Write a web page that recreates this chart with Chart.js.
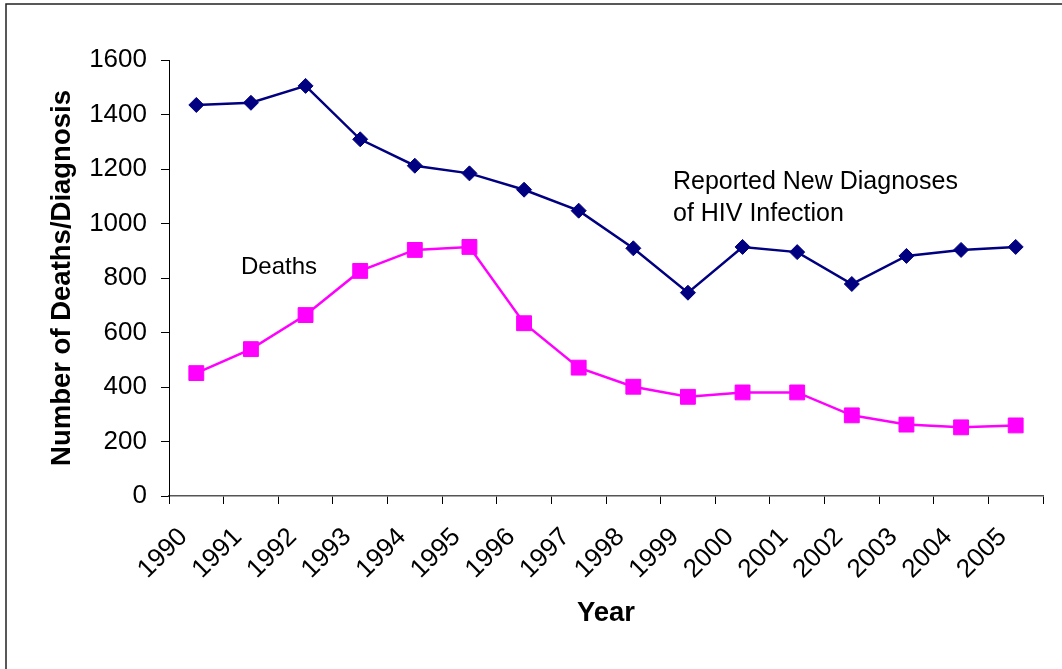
<!DOCTYPE html>
<html>
<head>
<meta charset="utf-8">
<script src="https://cdn.jsdelivr.net/npm/chart.js@4/dist/chart.umd.min.js"></script>
<style>
  html, body { margin: 0; padding: 0; background: #fff; }
  #wrap { width: 1062px; height: 669px; position: relative; }
</style>
</head>
<body>
<div id="wrap"><canvas id="chart"></canvas></div>
<script>
const years = ['1990','1991','1992','1993','1994','1995','1996','1997','1998','1999','2000','2001','2002','2003','2004','2005'];
const diagnoses = [1435, 1443, 1505, 1309, 1212, 1184, 1124, 1047, 909, 746, 914, 895, 778, 881, 903, 914];
const deaths = [451, 539, 664, 826, 903, 914, 634, 471, 401, 364, 380, 380, 296, 262, 252, 259];
const yTicks = [0, 200, 400, 600, 800, 1000, 1200, 1400, 1600];

const FONT = "'Liberation Sans', Arial, sans-serif";
const PAD = { top: 60, right: 19, bottom: 20, left: 20 };

// frame and the two series labels
const extras = {
  id: 'extras',
  beforeDraw(chart) {
    const ctx = chart.ctx;
    ctx.save();
    ctx.strokeStyle = '#222';
    ctx.lineWidth = 1.5;
    ctx.beginPath();
    ctx.moveTo(6, 669);
    ctx.lineTo(6, 4);
    ctx.lineTo(1062, 4);
    ctx.stroke();
    ctx.restore();
  },
  afterDraw(chart) {
    const ctx = chart.ctx;
    ctx.save();
    ctx.fillStyle = '#000';
    ctx.textBaseline = 'alphabetic';
    ctx.textAlign = 'left';
    ctx.font = '25px ' + FONT;
    ctx.fillText('Reported New Diagnoses', 673, 189);
    ctx.fillText('of HIV Infection', 673, 221);
    ctx.font = '24px ' + FONT;
    ctx.fillText('Deaths', 241, 274);
    ctx.restore();
  }
};

new Chart(document.getElementById('chart'), {
  type: 'line',
  data: {
    labels: years,
    datasets: [
      {
        label: 'Reported New Diagnoses of HIV Infection',
        data: diagnoses,
        borderColor: '#000080',
        backgroundColor: '#000080',
        borderWidth: 2.5,
        tension: 0,
        pointStyle: 'rectRot',
        pointRadius: 7.5,
        pointHoverRadius: 7.5,
        pointBorderWidth: 1,
        pointBorderColor: '#000080',
        pointBackgroundColor: '#000080'
      },
      {
        label: 'Deaths',
        data: deaths,
        borderColor: '#ff00ff',
        backgroundColor: '#ff00ff',
        borderWidth: 2.5,
        tension: 0,
        pointStyle: 'rect',
        pointRadius: 10.5,
        pointHoverRadius: 10.5,
        pointBorderWidth: 1,
        pointBorderColor: '#ff00ff',
        pointBackgroundColor: '#ff00ff'
      }
    ]
  },
  options: {
    responsive: true,
    maintainAspectRatio: false,
    animation: false,
    layout: { padding: PAD },
    plugins: {
      legend: { display: false },
      tooltip: { enabled: false }
    },
    scales: {
      x: {
        offset: true,
        grid: {
          offset: true,
          drawOnChartArea: false,
          tickLength: 8,
          color: '#000',
          lineWidth: 1
        },
        border: { color: '#555', width: 1.5 },
        ticks: {
          color: '#000',
          font: { family: FONT, size: 26 },
          minRotation: 45,
          maxRotation: 45,
          padding: 18,
          labelOffset: -13,
          autoSkip: false
        },
        title: {
          display: true,
          text: 'Year',
          color: '#000',
          font: { family: FONT, size: 27.5, weight: 'bold' },
          padding: { top: 0, bottom: 19.5 }
        },
        afterFit(scale) { scale.height = 669 - 496 - PAD.bottom; }
      },
      y: {
        min: 0,
        max: 1600,
        afterBuildTicks(scale) { scale.ticks = yTicks.map(v => ({ value: v })); },
        grid: {
          drawOnChartArea: false,
          tickLength: 8,
          color: '#000',
          lineWidth: 1
        },
        border: { color: '#000', width: 1 },
        ticks: {
          color: '#000',
          font: { family: FONT, size: 26 },
          padding: 14,
          callback: v => String(v)
        },
        title: {
          display: true,
          text: 'Number of Deaths/Diagnosis',
          color: '#000',
          font: { family: FONT, size: 27.5, weight: 'bold' },
          padding: { top: 25.5, bottom: 0 }
        },
        afterFit(scale) { scale.width = 169 - PAD.left; }
      }
    }
  },
  plugins: [extras]
});
</script>
</body>
</html>
